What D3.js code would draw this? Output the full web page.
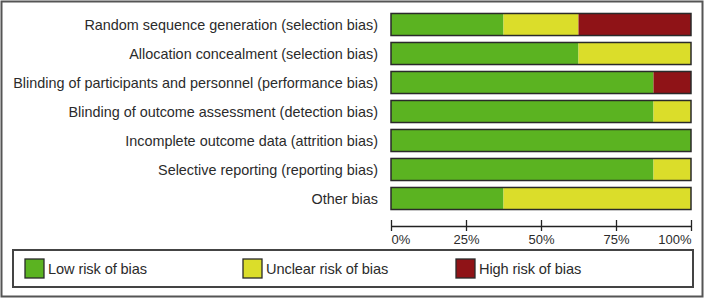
<!DOCTYPE html>
<html lang="en">
<head>
  <meta charset="UTF-8">
  <title>Risk of bias summary</title>
  <script src="https://d3js.org/d3.v7.min.js"></script>
  <style>
    body { margin: 0; background: #fff; }
    svg { display: block; font-family: 'Liberation Sans', Arial, sans-serif; }
    .label { font-size: 14.4px; fill: #2b2b2b; }
    .legend-label { font-size: 14.6px; fill: #2b2b2b; letter-spacing: -0.1px; }
    .axis text { font-size: 13px; fill: #2b2b2b; font-family: 'Liberation Sans', Arial, sans-serif; }
    .axis line, .axis path { stroke: #222; stroke-width: 1.3; }
  </style>
</head>
<body>
<div id="chart"></div>
<script>
  // domains, top to bottom
  const domains = [
    "Random sequence generation (selection bias)",
    "Allocation concealment (selection bias)",
    "Blinding of participants and personnel (performance bias)",
    "Blinding of outcome assessment (detection bias)",
    "Incomplete outcome data (attrition bias)",
    "Selective reporting (reporting bias)",
    "Other bias"
  ];
  // percentages per judgement
  const lowRisk = [37.5, 62.5, 87.5, 87.5, 100, 87.5, 37.5];
  const unclearRisk = [25, 37.5, 0, 12.5, 0, 12.5, 62.5];
  const highRisk = [37.5, 0, 12.5, 0, 0, 0, 0];
  const tickValues = [0, 25, 50, 75, 100];
  const legendLabels = ["Low risk of bias", "Unclear risk of bias", "High risk of bias"];
  const colors = ["#5bb321", "#dbdd2a", "#8f1317"];

  const W = 705, H = 299;

  const svg = d3.select("#chart").append("svg")
    .attr("width", W)
    .attr("height", H);

  // outer frame
  svg.append("rect")
    .attr("x", 1.5).attr("y", 1.5)
    .attr("width", W - 4).attr("height", H - 4)
    .attr("fill", "none")
    .attr("stroke", "#555")
    .attr("stroke-width", 2);

  const rows = domains.map((d, i) => ({
    domain: d, low: lowRisk[i], unclear: unclearRisk[i], high: highRisk[i]
  }));

  const x = d3.scaleLinear().domain([0, 100]).range([391, 691]);
  const y = d3.scaleBand().domain(domains).range([10, 213])
    .paddingInner(0.24).paddingOuter(0.12);

  const stack = d3.stack().keys(["low", "unclear", "high"]);
  const series = stack(rows);

  svg.append("g").selectAll("g")
    .data(series)
    .join("g")
    .attr("fill", (d, i) => colors[i])
    .selectAll("rect")
    .data(d => d)
    .join("rect")
    .attr("x", d => x(d[0]))
    .attr("y", d => y(d.data.domain))
    .attr("width", d => x(d[1]) - x(d[0]))
    .attr("height", y.bandwidth());

  // bar outlines
  svg.append("g").selectAll("rect")
    .data(rows)
    .join("rect")
    .attr("x", x(0))
    .attr("y", d => y(d.domain))
    .attr("width", x(100) - x(0))
    .attr("height", y.bandwidth())
    .attr("fill", "none")
    .attr("stroke", "#2a2a2a")
    .attr("stroke-width", 1.5);

  // row labels
  svg.append("g").selectAll("text")
    .data(domains)
    .join("text")
    .attr("class", "label")
    .attr("x", 378)
    .attr("y", d => y(d) + y.bandwidth() / 2)
    .attr("dy", "0.35em")
    .attr("text-anchor", "end")
    .text(d => d);

  // axis
  const axis = svg.append("g")
    .attr("class", "axis")
    .attr("transform", "translate(0,226)")
    .call(d3.axisBottom(x).tickValues(tickValues).tickSizeOuter(0)
      .tickFormat(d => d + "%"));
  axis.selectAll(".tick line").attr("y1", -6).attr("y2", 5);
  axis.selectAll(".tick text")
    .attr("y", 9)
    .attr("text-anchor", (d, i) => i === 0 ? "start" : (i === tickValues.length - 1 ? "end" : "middle"));

  // legend
  const legend = svg.append("g");
  legend.append("rect")
    .attr("x", 13).attr("y", 250)
    .attr("width", 680).attr("height", 37)
    .attr("fill", "none")
    .attr("stroke", "#444")
    .attr("stroke-width", 2);

  const legendX = [25, 243, 456];
  const items = legend.selectAll("g.item")
    .data(legendLabels)
    .join("g")
    .attr("class", "item")
    .attr("transform", (d, i) => `translate(${legendX[i]},259)`);
  items.append("rect")
    .attr("width", 19).attr("height", 19)
    .attr("fill", (d, i) => colors[i])
    .attr("stroke", "#2a2a2a")
    .attr("stroke-width", 1.3);
  items.append("text")
    .attr("class", "legend-label")
    .attr("x", 23)
    .attr("y", 10)
    .attr("dy", "0.35em")
    .text(d => d);
</script>
</body>
</html>
